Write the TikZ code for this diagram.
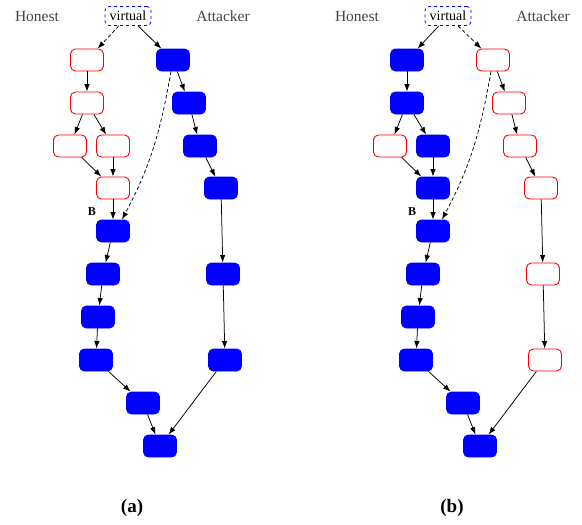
\documentclass[tikz,border=0pt]{standalone}
\usepackage{fontspec}
\setmainfont{Liberation Serif}
\usetikzlibrary{arrows.meta}
\definecolor{txtgrey}{HTML}{444444}
\tikzset{
  blk/.style={rectangle, rounded corners=5pt, minimum width=33pt, minimum height=22pt, inner sep=0pt, line width=0.9pt},
  redblk/.style={blk, draw={rgb,255:red,255;green,0;blue,0}, fill=white},
  blueblk/.style={blk, draw=blue, fill=blue},
  virt/.style={rectangle, rounded corners=4pt, draw=blue, dashed, line width=0.8pt, minimum width=46pt, minimum height=19pt, inner sep=1pt, font=\fontsize{14}{14}\selectfont},
  headtxt/.style={text=txtgrey, font=\fontsize{15.5}{16}\selectfont},
  conn/.style={-{Latex[length=7.5pt,width=5.5pt]}, line width=0.75pt},
  dconn/.style={conn, dash pattern=on 3.5pt off 2.5pt},
  blab/.style={font=\bfseries\fontsize{12}{12}\selectfont},
  subcap/.style={font=\bfseries\fontsize{19}{19}\selectfont}
}
\begin{document}
\begin{tikzpicture}[x=1pt,y=-1pt]
\useasboundingbox (0,0) rectangle (582,525);
% ---------- panel (a) ----------
\node[headtxt] (aHon) at (37,16) {Honest};
\node[headtxt] (aAtt) at (223,16) {Attacker};
\node[virt] (av) at (128,16) {virtual};
\node[redblk] (ar1) at (87,60) {};
\node[redblk] (ar2) at (87,103) {};
\node[redblk] (ar3a) at (70,146) {};
\node[redblk] (ar3b) at (113,146) {};
\node[redblk] (ar4) at (113,188) {};
\node[blueblk] (aB) at (113,231) {};
\node[blab] (aBl) at (92,212) {B};
\node[blueblk] (aH1) at (103,274) {};
\node[blueblk] (aH2) at (98,317) {};
\node[blueblk] (aH3) at (96,360) {};
\node[blueblk] (aH4) at (143,403) {};
\node[blueblk] (aH5) at (160,446) {};
\node[blueblk] (aA1) at (173,60) {};
\node[blueblk] (aA2) at (189,103) {};
\node[blueblk] (aA3) at (200,146) {};
\node[blueblk] (aA4) at (221,188) {};
\node[blueblk] (aA5) at (223,274) {};
\node[blueblk] (aA6) at (225,360) {};
\node[subcap] (acap) at (132,508) {(a)};
\draw[dconn] (av) -- (ar1);
\draw[conn] (av) -- (aA1);
\draw[conn] (ar1) -- (ar2);
\draw[conn] (ar2) -- (ar3a);
\draw[conn] (ar2) -- (ar3b);
\draw[conn] (ar3a) -- (ar4);
\draw[conn] (ar3b) -- (ar4);
\draw[conn] (ar4) -- (aB);
\draw[dconn] ([xshift=-2pt]aA1.south) to[out=-100,in=62] ([xshift=9pt]aB.north);
\draw[conn] (aB) -- (aH1);
\draw[conn] (aH1) -- (aH2);
\draw[conn] (aH2) -- (aH3);
\draw[conn] (aH3) -- (aH4);
\draw[conn] (aH4) -- (aH5);
\draw[conn] (aA1) -- (aA2);
\draw[conn] (aA2) -- (aA3);
\draw[conn] (aA3) -- (aA4);
\draw[conn] (aA4) -- (aA5);
\draw[conn] (aA5) -- (aA6);
\draw[conn] (aA6) -- (aH5);
% ---------- panel (b) ----------
\begin{scope}[xshift=320pt]
\node[headtxt] (bHon) at (37,16) {Honest};
\node[headtxt] (bAtt) at (223,16) {Attacker};
\node[virt] (bv) at (128,16) {virtual};
\node[blueblk] (br1) at (87,60) {};
\node[blueblk] (br2) at (87,103) {};
\node[redblk] (br3a) at (70,146) {};
\node[blueblk] (br3b) at (113,146) {};
\node[blueblk] (br4) at (113,188) {};
\node[blueblk] (bB) at (113,231) {};
\node[blab] (bBl) at (92,212) {B};
\node[blueblk] (bH1) at (103,274) {};
\node[blueblk] (bH2) at (98,317) {};
\node[blueblk] (bH3) at (96,360) {};
\node[blueblk] (bH4) at (143,403) {};
\node[blueblk] (bH5) at (160,446) {};
\node[redblk] (bA1) at (173,60) {};
\node[redblk] (bA2) at (189,103) {};
\node[redblk] (bA3) at (200,146) {};
\node[redblk] (bA4) at (221,188) {};
\node[redblk] (bA5) at (223,274) {};
\node[redblk] (bA6) at (225,360) {};
\node[subcap] (bcap) at (132,508) {(b)};
\draw[conn] (bv) -- (br1);
\draw[dconn] (bv) -- (bA1);
\draw[conn] (br1) -- (br2);
\draw[conn] (br2) -- (br3a);
\draw[conn] (br2) -- (br3b);
\draw[conn] (br3a) -- (br4);
\draw[conn] (br3b) -- (br4);
\draw[conn] (br4) -- (bB);
\draw[dconn] ([xshift=-2pt]bA1.south) to[out=-100,in=62] ([xshift=9pt]bB.north);
\draw[conn] (bB) -- (bH1);
\draw[conn] (bH1) -- (bH2);
\draw[conn] (bH2) -- (bH3);
\draw[conn] (bH3) -- (bH4);
\draw[conn] (bH4) -- (bH5);
\draw[conn] (bA1) -- (bA2);
\draw[conn] (bA2) -- (bA3);
\draw[conn] (bA3) -- (bA4);
\draw[conn] (bA4) -- (bA5);
\draw[conn] (bA5) -- (bA6);
\draw[conn] (bA6) -- (bH5);
\end{scope}
\end{tikzpicture}
\end{document}
